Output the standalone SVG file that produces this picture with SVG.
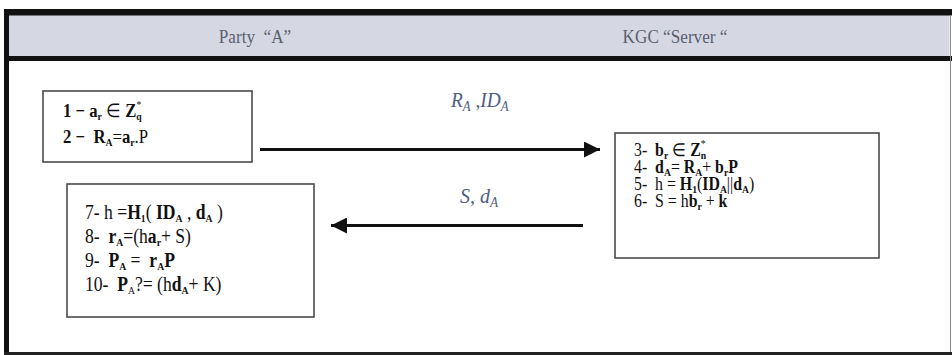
<svg xmlns="http://www.w3.org/2000/svg" width="952" height="355" viewBox="0 0 952 355">
  <style>
    text { white-space: pre; }
    .hdr { font-family: "Liberation Serif", "Times New Roman", serif; font-size: 19.5px; fill: #5b5f70; }
    .t { font-family: "Liberation Serif", "Times New Roman", serif; font-size: 18px; fill: #111; }
    .t3 { font-family: "Liberation Serif", "Times New Roman", serif; font-size: 20px; fill: #111; }
    .m { font-family: "Liberation Serif", "Times New Roman", serif; font-size: 19px; fill: #111; font-weight: bold; }
    .b { font-weight: bold; }
    .n { font-weight: normal; }
    .s { font-size: 11px; }
    .lbl { font-family: "Liberation Serif", "Times New Roman", serif; font-size: 21px; font-style: italic; fill: #4f5e80; }
    .ls { font-size: 14px; }
    .box { fill: #fff; stroke: #4a4a4a; stroke-width: 1.6; }
    .link { stroke: #111; stroke-width: 3.2; fill: none; }
  </style>
  <defs>
    <marker id="head" viewBox="0 0 10 10" refX="10" refY="5" markerWidth="5" markerHeight="5" markerUnits="strokeWidth" orient="auto">
      <path d="M0,0 L10,5 L0,10 Z" fill="#111"/>
    </marker>
  </defs>

  <!-- outer frame and header band -->
  <g id="frame">
    <rect x="0" y="0" width="952" height="355" fill="#fff"/>
    <rect x="6.5" y="15" width="943" height="41" fill="#d5d8e3"/>
    <rect x="4" y="9" width="948" height="6.5" fill="#111"/>
    <rect x="4" y="56" width="948" height="5" fill="#111"/>
    <rect x="4" y="9" width="5" height="346" fill="#111"/>
    <rect x="4" y="352" width="948" height="3" fill="#222"/>
    <line x1="950.5" y1="15" x2="950.5" y2="352" stroke="#8a8a8a" stroke-width="1"/>
    <text class="hdr" transform="translate(255 43) scale(0.88 1)" text-anchor="middle">Party  “A”</text>
    <text class="hdr" transform="translate(675 43) scale(0.88 1)" text-anchor="middle">KGC “Server “</text>
  </g>

  <!-- connectors -->
  <g id="connectors">
    <line class="link" x1="260" y1="149.5" x2="600" y2="149.5" marker-end="url(#head)"/>
    <line class="link" x1="583" y1="225.5" x2="331" y2="225.5" marker-end="url(#head)"/>
    <text class="lbl" transform="translate(451 107) scale(0.92 1)">R<tspan class="ls" dy="4">A</tspan><tspan dy="-4"> ,ID</tspan><tspan class="ls" dy="4">A</tspan></text>
    <text class="lbl" transform="translate(460 203) scale(0.95 1)">S, d<tspan class="ls" dy="4">A</tspan></text>
  </g>

  <!-- Party A: key request -->
  <g id="partyA-request">
    <rect class="box" x="43" y="91" width="209" height="71"/>
    <text class="m" transform="translate(63 117) scale(0.88 1)">1 − a<tspan class="s" dy="3">r</tspan><tspan dy="-3"> </tspan><tspan class="n">∈</tspan> Z<tspan class="s" dy="3">q</tspan><tspan class="s n" dx="-6" dy="-12">*</tspan></text>
    <text class="m" transform="translate(63 143) scale(0.88 1)">2 −  R<tspan class="s" dy="3">A</tspan><tspan dy="-3" class="n">=</tspan>a<tspan class="s" dy="3">r</tspan><tspan dy="-3" class="n">.P</tspan></text>
  </g>

  <!-- KGC server: partial key issue -->
  <g id="kgc-server">
    <rect class="box" x="615" y="133" width="264" height="125"/>
    <text class="t" transform="translate(634 156) scale(0.88 1)">3-  <tspan class="b">b</tspan><tspan class="s b" dy="3">r</tspan><tspan dy="-3"> ∈ </tspan><tspan class="b">Z</tspan><tspan class="s b" dy="3">n</tspan><tspan class="s" dx="-6" dy="-12">*</tspan></text>
    <text class="t" transform="translate(634 173) scale(0.88 1)">4-  <tspan class="b">d</tspan><tspan class="s b" dy="3">A</tspan><tspan dy="-3">= </tspan><tspan class="b">R</tspan><tspan class="s b" dy="3">A</tspan><tspan dy="-3">+ </tspan><tspan class="b">b</tspan><tspan class="s b" dy="3">r</tspan><tspan class="b" dy="-3">P</tspan></text>
    <text class="t" transform="translate(634 190) scale(0.88 1)">5-  h = <tspan class="b">H</tspan><tspan class="s b" dy="3">1</tspan><tspan dy="-3">(</tspan><tspan class="b">ID</tspan><tspan class="s b" dy="3">A</tspan><tspan dy="-3">||</tspan><tspan class="b">d</tspan><tspan class="s b" dy="3">A</tspan><tspan dy="-3">)</tspan></text>
    <text class="t" transform="translate(634 207) scale(0.88 1)">6-  S = h<tspan class="b">b</tspan><tspan class="s b" dy="3">r</tspan><tspan dy="-3"> + </tspan><tspan class="b">k</tspan></text>
  </g>

  <!-- Party A: key derivation and check -->
  <g id="partyA-verify">
    <rect class="box" x="67" y="184" width="247" height="133"/>
    <text class="t3" transform="translate(85 219) scale(0.88 1)">7- h =<tspan class="b">H</tspan><tspan class="s b" dy="3">1</tspan><tspan dy="-3">( </tspan><tspan class="b">ID</tspan><tspan class="s b" dy="3">A</tspan><tspan dy="-3"> , </tspan><tspan class="b">d</tspan><tspan class="s b" dy="3">A</tspan><tspan dy="-3"> )</tspan></text>
    <text class="t3" transform="translate(85 243) scale(0.88 1)">8-  <tspan class="b">r</tspan><tspan class="s b" dy="3">A</tspan><tspan dy="-3">=(h</tspan><tspan class="b">a</tspan><tspan class="s b" dy="3">r</tspan><tspan dy="-3">+ S)</tspan></text>
    <text class="t3" transform="translate(85 267) scale(0.88 1)">9-  <tspan class="b">P</tspan><tspan class="s b" dy="3">A</tspan><tspan dy="-3"> =  </tspan><tspan class="b">r</tspan><tspan class="s b" dy="3">A</tspan><tspan class="b" dy="-3">P</tspan></text>
    <text class="t3" transform="translate(85 291) scale(0.88 1)">10-  <tspan class="b">P</tspan><tspan class="s" dy="3">A</tspan><tspan dy="-3">?= (h</tspan><tspan class="b">d</tspan><tspan class="s b" dy="3">A</tspan><tspan dy="-3">+ K)</tspan></text>
  </g>
</svg>
